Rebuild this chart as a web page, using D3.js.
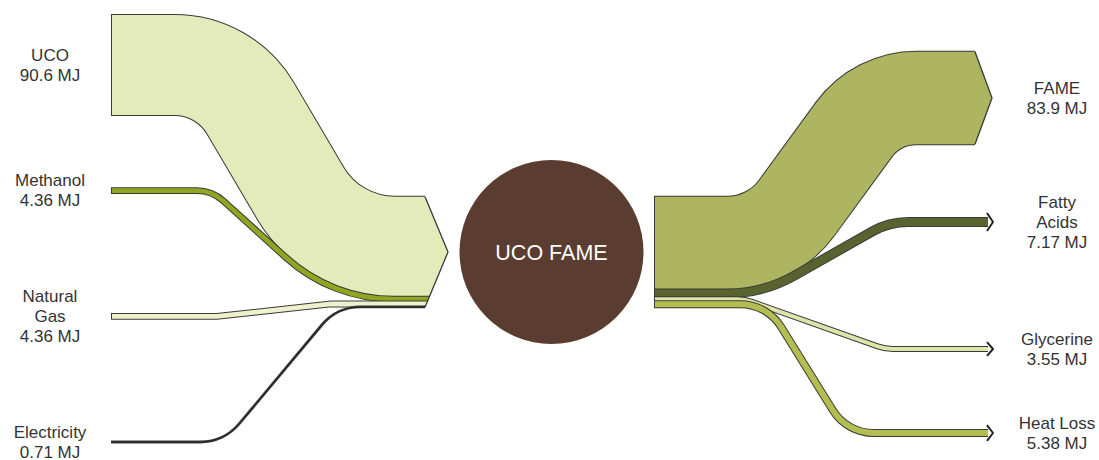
<!DOCTYPE html>
<html>
<head>
<meta charset="utf-8">
<script src="https://cdn.jsdelivr.net/npm/d3@7"></script>
<style>
  html, body { margin: 0; padding: 0; background: #ffffff; }
  svg { display: block; }
  text { font-family: "Liberation Sans", Arial, Helvetica, sans-serif; }
</style>
</head>
<body>
<svg id="chart" width="1099" height="460"></svg>
<script>
// ---------------- data ----------------
const inputNames   = ["UCO", "Methanol", "Natural Gas", "Electricity"];
const inputLabels  = [["UCO"], ["Methanol"], ["Natural", "Gas"], ["Electricity"]];
const inputValues  = [90.6, 4.36, 4.36, 0.71];

const outputNames  = ["FAME", "Fatty Acids", "Glycerine", "Heat Loss"];
const outputLabels = [["FAME"], ["Fatty", "Acids"], ["Glycerine"], ["Heat Loss"]];
const outputValues = [83.9, 7.17, 3.55, 5.38];

const processName = "UCO FAME";
const unit = "MJ";

// ---------------- layout / style ----------------
const W = 1099, H = 460;
const inColors  = ["#e2ebb9", "#90a520", "#eef1cb", "#1e1e1e"];
const outColors = ["#aeb561", "#59632f", "#dfe5a8", "#b4bd50"];
const edgeColor = "#3a3a3a";
const node = { cx: 551.5, cy: 252, r: 92, fill: "#5b3c30" };

// thickness scale (MJ -> px)
const thick = d3.scaleLinear().domain([0, 100]).range([0, 110.4]);
// left label slots
const inY = d3.scalePoint().domain(inputNames).range([65, 442]);
// right label slots
const outSlotY = [98, 222, 349, 433];
const outY = d3.scaleOrdinal().domain(outputNames).range(outSlotY);

// bend geometry for each flow: [corner1 x, corner2 x, radius1, radius2]
const inBends  = [[225, 332, 88, 110], [212, 332, 40, 162], [218, 330, 20, 20], [224, 337, 51, 50]];
const outBends = [[771, 877, 86, 78], [763, 889, 136, 72], [745, 885, 45, 45], [767, 847, 48, 48]];

const xInStart = 112, xInEnd = 425, xInTip = 448;
const xOutStart = 655, xFameEnd = 975, xFameTip = 992, xOutEnd = 988;

const svg = d3.select("#chart");

function roundedPath(pts, radii) {
  const p = d3.path();
  p.moveTo(pts[0][0], pts[0][1]);
  for (let i = 1; i < pts.length - 1; i++) {
    p.arcTo(pts[i][0], pts[i][1], pts[i + 1][0], pts[i + 1][1], radii[i - 1]);
  }
  const last = pts[pts.length - 1];
  p.lineTo(last[0], last[1]);
  return p.toString();
}

// stacks at the process node
const inTotal = thick(d3.sum(inputValues));
const outTotal = thick(d3.sum(outputValues));
let acc = node.cy - inTotal / 2;
const inStack = inputValues.map(v => { const w = thick(v); const c = acc + w / 2; acc += w; return c; });
const inTop = node.cy - inTotal / 2, inBot = node.cy + inTotal / 2;
acc = node.cy - outTotal / 2;
const outStack = outputValues.map(v => { const w = thick(v); const c = acc + w / 2; acc += w; return c; });

// ---------- clips for arrow heads ----------
const defs = svg.append("defs");
defs.append("clipPath").attr("id", "inClip").append("path")
  .attr("d", `M0,0 H${xInEnd} V${inTop} L${xInTip},${node.cy} L${xInEnd},${inBot} V${H} H0 Z`);

const fameW = thick(outputValues[0]);
const fameY = outY(outputNames[0]);
defs.append("clipPath").attr("id", "fameClip").append("path")
  .attr("d", `M0,0 H${xFameEnd} V${fameY - fameW / 2} L${xFameTip},${fameY} L${xFameEnd},${fameY + fameW / 2} V${H} H0 Z`);

// ---------- incoming flows ----------
const gIn = svg.append("g").attr("clip-path", "url(#inClip)");
inputNames.forEach((name, i) => {
  const w = thick(inputValues[i]);
  const y0 = inY(name), y1 = inStack[i];
  const b = inBends[i];
  const pts = (xs) => [[xs, y0], [b[0], y0], [b[1], y1], [xInTip + 5, y1]];
  gIn.append("path")
    .attr("d", roundedPath(pts(xInStart - 1), [b[2], b[3]]))
    .attr("fill", "none").attr("stroke", edgeColor).attr("stroke-width", w + 2);
  gIn.append("path")
    .attr("d", roundedPath(pts(xInStart), [b[2], b[3]]))
    .attr("fill", "none").attr("stroke", inColors[i]).attr("stroke-width", w);
});
svg.append("path")
  .attr("d", `M${xInEnd},${inTop} L${xInTip},${node.cy} L${xInEnd},${inBot}`)
  .attr("fill", "none").attr("stroke", edgeColor).attr("stroke-width", 1.3);

// ---------- outgoing flows ----------
outputNames.forEach((name, i) => {
  const w = thick(outputValues[i]);
  const y0 = outStack[i], y1 = outY(name);
  const b = outBends[i];
  const isMain = i === 0;
  const xe = isMain ? xFameTip + 5 : xOutEnd;
  const pts = (xs) => [[xs, y0], [b[0], y0], [b[1], y1], [xe, y1]];
  const g = svg.append("g");
  if (isMain) g.attr("clip-path", "url(#fameClip)");
  g.append("path")
    .attr("d", roundedPath(pts(xOutStart - 1), [b[2], b[3]]))
    .attr("fill", "none").attr("stroke", edgeColor).attr("stroke-width", w + 2);
  g.append("path")
    .attr("d", roundedPath(pts(xOutStart), [b[2], b[3]]))
    .attr("fill", "none").attr("stroke", outColors[i]).attr("stroke-width", w);
  if (isMain) {
    svg.append("path")
      .attr("d", `M${xFameEnd},${y1 - w / 2} L${xFameTip},${y1} L${xFameEnd},${y1 + w / 2}`)
      .attr("fill", "none").attr("stroke", edgeColor).attr("stroke-width", 1.3);
  } else {
    const hw = w / 2 + 5;
    svg.append("path")
      .attr("d", `M${xOutEnd - 1},${y1 - hw} L${xOutEnd + 5},${y1} L${xOutEnd - 1},${y1 + hw}`)
      .attr("fill", "none").attr("stroke", "#222").attr("stroke-width", 2)
      .attr("stroke-linejoin", "round");
  }
});

// ---------- process node ----------
svg.append("circle")
  .attr("cx", node.cx).attr("cy", node.cy).attr("r", node.r)
  .attr("fill", node.fill);
svg.append("text")
  .attr("x", node.cx).attr("y", node.cy + 1)
  .attr("text-anchor", "middle").attr("dominant-baseline", "central")
  .attr("fill", "#ffffff").attr("font-size", 21.5)
  .text(processName);

// ---------- labels ----------
function label(x, yc, lines, value) {
  const all = lines.concat([`${value} ${unit}`]);
  const lh = 20;
  const t = svg.append("text")
    .attr("text-anchor", "middle").attr("font-size", 17).attr("fill", "#333333");
  all.forEach((s, k) => {
    t.append("tspan").attr("x", x)
      .attr("y", yc + (k - (all.length - 1) / 2) * lh)
      .attr("dominant-baseline", "central")
      .text(s);
  });
}
inputNames.forEach((n, i) => label(50, inY(n), inputLabels[i], inputValues[i]));
outputNames.forEach((n, i) => label(1057, outY(n), outputLabels[i], outputValues[i]));
</script>
</body>
</html>
